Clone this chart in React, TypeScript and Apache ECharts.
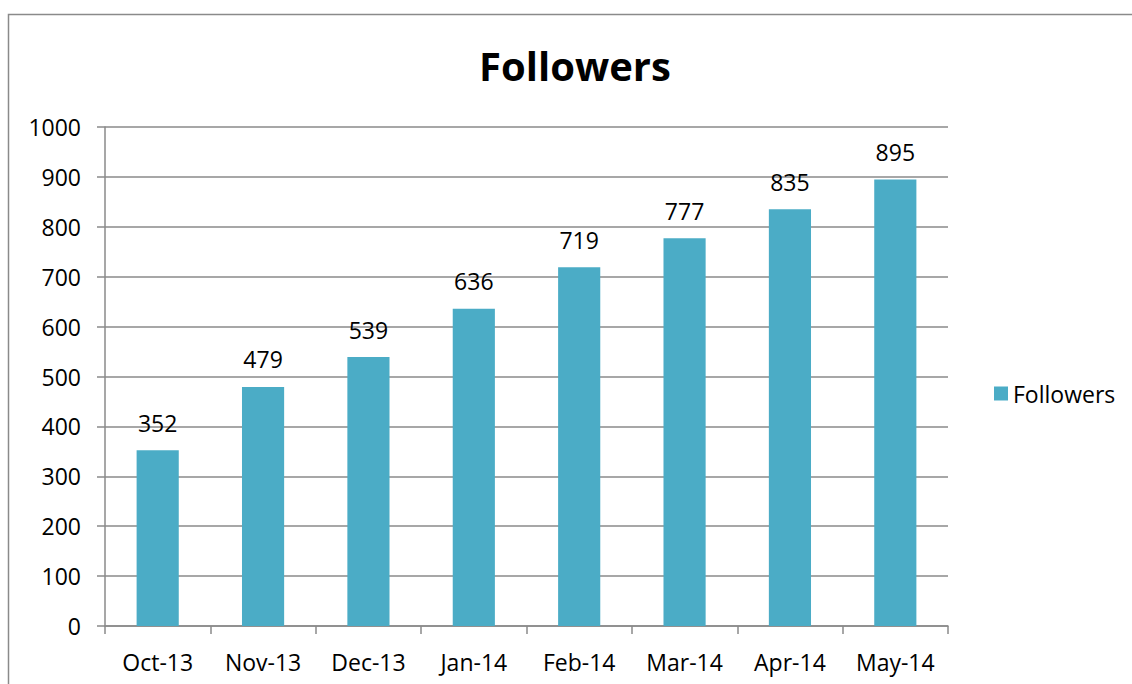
import React, { useEffect, useRef } from "react";
import * as echarts from "echarts";

const categories = ["Oct-13", "Nov-13", "Dec-13", "Jan-14", "Feb-14", "Mar-14", "Apr-14", "May-14"];
const followers = [352, 479, 539, 636, 719, 777, 835, 895];
const seriesName = "Followers";
const chartTitle = "Followers";

const FONT = '"Open Sans", "Noto Sans", sans-serif';
const GRAY = "#8a8a8a";

export default function App() {
  const ref = useRef<HTMLDivElement>(null);
  useEffect(() => {
    if (!ref.current) return;
    const chart = echarts.init(ref.current, null, { renderer: "svg" });
    chart.setOption({
      animation: false,
      backgroundColor: "#ffffff",
      title: {
        text: chartTitle,
        left: 570,
        top: 40,
        textAlign: "center",
        textStyle: { fontFamily: FONT, fontSize: 40, fontWeight: "bold", color: "#000" },
      },
      graphic: [
        {
          type: "rect",
          shape: { x: 8.5, y: 14.5, width: 1200, height: 800 },
          style: { fill: "none", stroke: GRAY, lineWidth: 1.5 },
          silent: true,
        },
      ],
      legend: {
        left: 989,
        top: 377,
        orient: "vertical",
        icon: "rect",
        itemWidth: 14,
        itemHeight: 14,
        itemGap: 8,
        textStyle: { fontFamily: FONT, fontSize: 23, color: "#000" },
        data: [seriesName],
      },
      grid: { left: 105, right: 184, top: 127, bottom: 58, containLabel: false },
      xAxis: {
        type: "category",
        data: categories,
        axisLine: { lineStyle: { color: GRAY, width: 1.5 } },
        axisTick: { show: true, length: 8, lineStyle: { color: GRAY, width: 1.5 }, alignWithLabel: false },
        axisLabel: { fontFamily: FONT, fontSize: 23, color: "#000", margin: 24 },
        splitLine: { show: false },
      },
      yAxis: {
        type: "value",
        min: 0,
        max: 1000,
        interval: 100,
        axisLine: { show: true, lineStyle: { color: GRAY, width: 1.5 } },
        axisTick: { show: true, length: 8, lineStyle: { color: GRAY, width: 1.5 } },
        axisLabel: {
          fontFamily: FONT,
          fontSize: 23,
          color: "#000",
          margin: 24,
          formatter: (v: number) => String(v),
        },
        splitLine: { show: true, lineStyle: { color: GRAY, width: 1.5 } },
      },
      series: [
        {
          name: seriesName,
          type: "bar",
          data: followers,
          barWidth: "40%",
          itemStyle: { color: "#4BACC6" },
          label: {
            show: true,
            position: "top",
            distance: 16,
            fontFamily: FONT,
            fontSize: 23,
            color: "#000",
          },
        },
      ],
    });
    return () => chart.dispose();
  }, []);
  return (
    <div
      ref={ref}
      style={{ position: "fixed", left: 0, top: 0, width: 1132, height: 684 }}
    />
  );
}
